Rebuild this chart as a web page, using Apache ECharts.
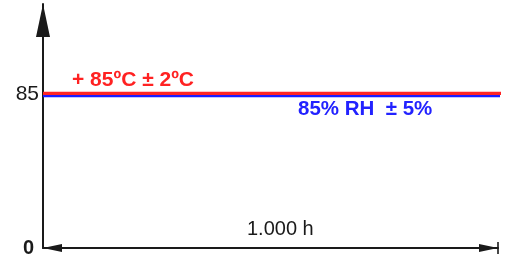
<!DOCTYPE html>
<html>
<head>
<meta charset="utf-8">
<script src="https://cdn.jsdelivr.net/npm/echarts@6/dist/echarts.min.js"></script>
<style>html,body{margin:0;padding:0;background:#fff}#c{width:526px;height:264px}</style>
</head>
<body>
<div id="c"></div>
<script>
// Data
var xRange = [0, 1010];          // hours, line extent
var tempLevel = 85.6;            // red line (85 °C)
var humLevel = 84.1;             // blue line (85 % RH)
var durationEnd = 1000;          // end of the 1.000 h arrow
var yTickValues = [0, 85];
var tempLabel = '+ 85ºC ± 2ºC';
var humLabel = '85% RH  ± 5%';
var durationLabel = '1.000 h';

var FONT = '"Liberation Sans", Arial, sans-serif';
var AXIS = '#1a1a1a';

var chart = echarts.init(document.getElementById('c'), null, {renderer: 'canvas'});
chart.setOption({
  animation: false,
  backgroundColor: '#fff',
  grid: {left: 43, right: 28, top: 4, bottom: 16},
  xAxis: {
    type: 'value', min: 0, max: durationEnd,
    axisLine: {show: true, lineStyle: {color: AXIS, width: 2},
      symbol: ['triangle', 'triangle'], symbolSize: [8, 19], symbolOffset: [9.5, -9.5]},
    axisTick: {show: false}, axisLabel: {show: false}, splitLine: {show: false}
  },
  yAxis: {
    type: 'value', min: 0, max: 135,
    axisLine: {show: true, lineStyle: {color: AXIS, width: 2},
      symbol: ['none', 'triangle'], symbolSize: [14, 33], symbolOffset: [0, -16.5]},
    axisTick: {show: false}, splitLine: {show: false},
    axisLabel: {
      customValues: yTickValues, margin: 4,
      formatter: function (v) { return v === 0 ? '{z|0}' : '{n|' + v + '}'; },
      rich: {
        z: {fontFamily: FONT, fontSize: 20, fontWeight: 'bold', color: AXIS, padding: [0, 5, 0, 0]},
        n: {fontFamily: FONT, fontSize: 21, color: AXIS}
      }
    }
  },
  series: [
    {type: 'line', clip: false, symbol: 'none', silent: true,
     data: [[xRange[0], tempLevel], [xRange[1], tempLevel]],
     lineStyle: {color: '#ff2424', width: 3.2}, z: 3},
    {type: 'line', clip: false, symbol: 'none', silent: true,
     data: [[xRange[0], humLevel], [xRange[1], humLevel]],
     lineStyle: {color: '#1c1cff', width: 2.6}, z: 2},
    {type: 'scatter', clip: false, silent: true, symbol: 'rect', symbolSize: [2, 12],
     data: [[durationEnd, 0]], itemStyle: {color: AXIS}}
  ],
  graphic: [
    {type: 'text', left: 72, top: 70, style: {text: tempLabel, font: 'bold 21px ' + FONT, fill: '#ff2222'}},
    {type: 'text', left: 298, top: 99, style: {text: humLabel, font: 'bold 20.5px ' + FONT, fill: '#2222ff'}},
    {type: 'text', left: 247, top: 219, style: {text: durationLabel, font: '20px ' + FONT, fill: AXIS}}
  ]
});
</script>
</body>
</html>
